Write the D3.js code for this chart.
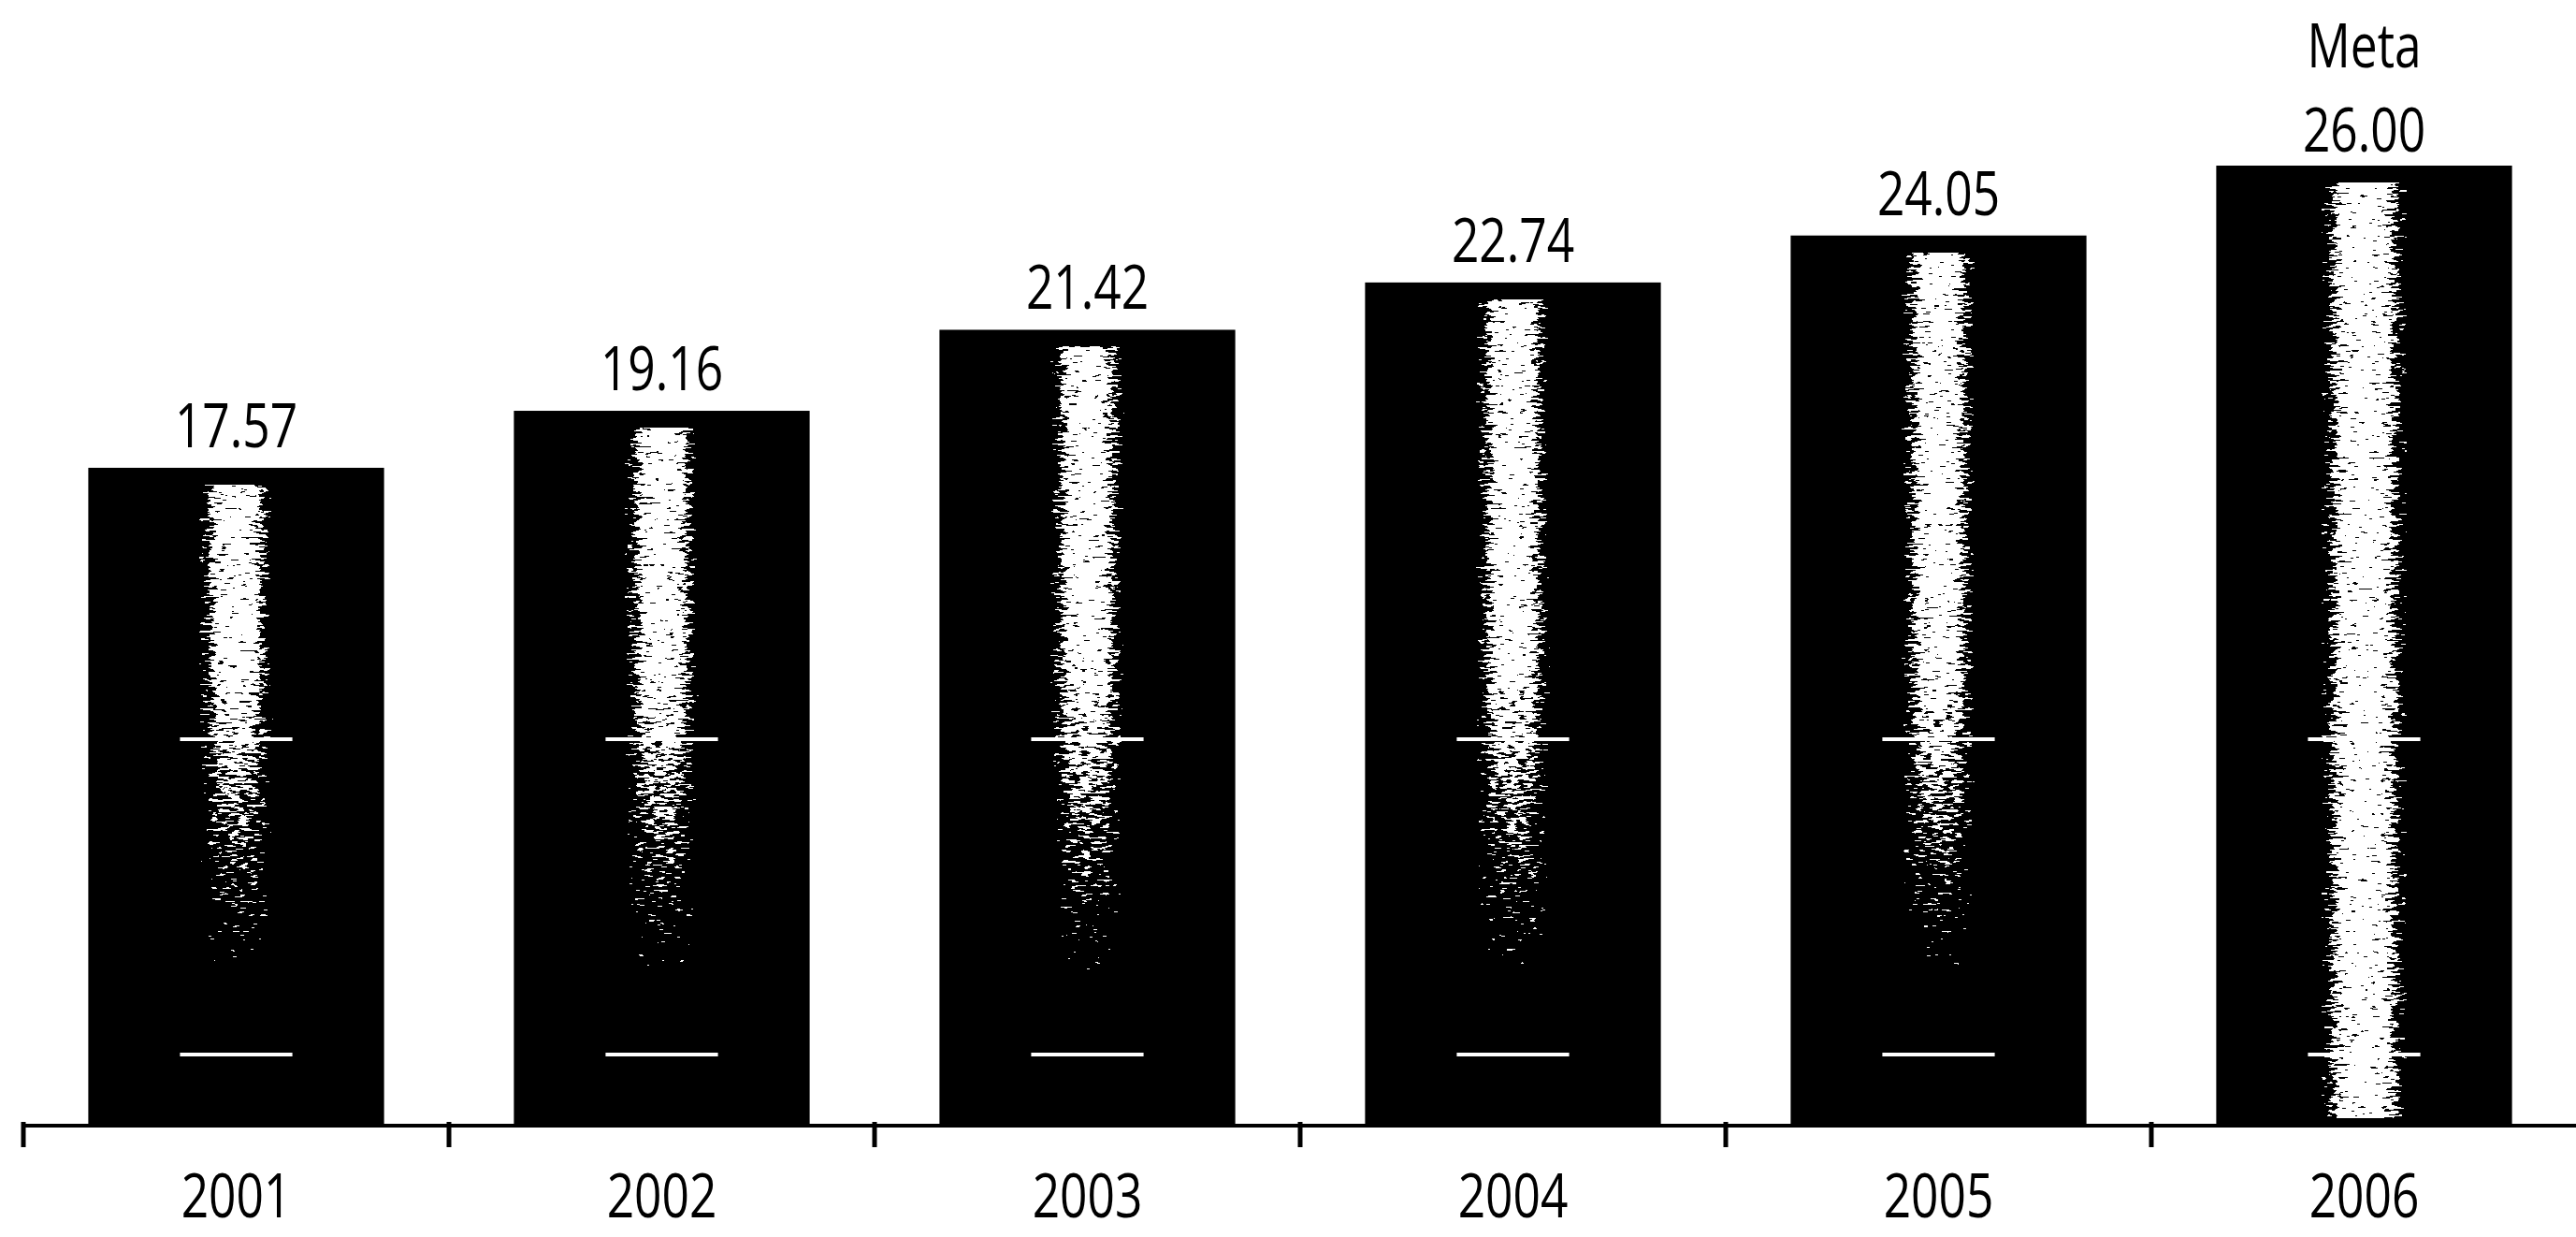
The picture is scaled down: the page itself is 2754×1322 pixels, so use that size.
<!DOCTYPE html>
<html>
<head>
<meta charset="utf-8">
<script src="https://cdn.jsdelivr.net/npm/d3@7"></script>
<style>
  html, body { margin: 0; padding: 0; background: #fff; }
  svg { display: block; }
  text { font-family: "Open Sans", "Noto Sans", sans-serif; fill: #000; }
</style>
</head>
<body>
<svg id="chart"></svg>
<script>
// ---- data ----
const years = ["2001", "2002", "2003", "2004", "2005", "2006"];
const values = [17.57, 19.16, 21.42, 22.74, 24.05, 26.00];
const targetYear = "2006";
const targetNote = "Meta";
const glintLevels = [10, 1.2];   // light streaks crossing the bars

// ---- layout ----
const W = 2754, H = 1322;
const axisY = 1203;
const fontSize = 66;
const squeeze = 0.78;

const svg = d3.select("#chart").attr("width", W).attr("height", H);
const data = years.map((y, i) => ({ year: y, value: values[i] }));

const x = d3.scaleBand().domain(years).range([25, 2755])
  .paddingInner(0.305).paddingOuter(0.1525);
const y = d3.scaleLinear().domain([0, 26]).range([1173, 177]);
const bw = x.bandwidth();

// ---- defs: gradients, masks, grain filter ----
const defs = svg.append("defs");
function hGrad(id, stops) {
  const g = defs.append("linearGradient").attr("id", id)
    .attr("x1", 0).attr("x2", 1).attr("y1", 0).attr("y2", 0);
  stops.forEach(([o, a]) => g.append("stop").attr("offset", o)
    .attr("stop-color", "#fff").attr("stop-opacity", a));
}
hGrad("hGrad", [[0, 0], [0.37, 0], [0.44, 0.85], [0.5, 1], [0.56, 0.85], [0.63, 0], [1, 0]]);
hGrad("hGradWide", [[0, 0], [0.35, 0], [0.43, 0.9], [0.5, 1], [0.57, 0.9], [0.65, 0], [1, 0]]);

const vg = defs.append("linearGradient").attr("id", "vFadeGrad")
  .attr("gradientUnits", "userSpaceOnUse")
  .attr("x1", 0).attr("x2", 0).attr("y1", y(12)).attr("y2", y(3));
vg.append("stop").attr("offset", 0).attr("stop-color", "#fff");
vg.append("stop").attr("offset", 1).attr("stop-color", "#000");
defs.append("mask").attr("id", "vFade")
  .attr("maskUnits", "userSpaceOnUse")
  .attr("x", 0).attr("y", 0).attr("width", W).attr("height", H)
  .append("rect").attr("width", W).attr("height", H).attr("fill", "url(#vFadeGrad)");

const f = defs.append("filter").attr("id", "grain")
  .attr("x", 0).attr("y", 0).attr("width", 1).attr("height", 1)
  .attr("color-interpolation-filters", "sRGB");
f.append("feTurbulence").attr("type", "fractalNoise")
  .attr("baseFrequency", "0.09 0.35").attr("numOctaves", 2).attr("seed", 5)
  .attr("result", "noise");
f.append("feColorMatrix").attr("in", "noise").attr("type", "matrix")
  .attr("values", "0 0 0 0 0  0 0 0 0 0  0 0 0 0 0  1.8 0 0 0 -0.4")
  .attr("result", "na");
f.append("feComposite").attr("in", "SourceGraphic").attr("in2", "na")
  .attr("operator", "arithmetic")
  .attr("k1", 0).attr("k2", 1).attr("k3", -1).attr("k4", 0)
  .attr("result", "diff");
const ct = f.append("feComponentTransfer").attr("in", "diff");
["feFuncR", "feFuncG", "feFuncB"].forEach(n =>
  ct.append(n).attr("type", "linear").attr("slope", 0).attr("intercept", 1));
ct.append("feFuncA").attr("type", "discrete")
  .attr("tableValues", "0 " + d3.range(15).map(() => "1").join(" "));

// ---- bars ----
const bars = svg.append("g").selectAll("g.bar").data(data).join("g").attr("class", "bar");

bars.append("rect")
  .attr("x", d => x(d.year))
  .attr("y", d => y(d.value))
  .attr("width", bw)
  .attr("height", d => axisY - y(d.value))
  .attr("fill", "#000");

bars.append("g").attr("filter", "url(#grain)")
  .append("rect")
  .attr("x", d => x(d.year))
  .attr("y", d => y(d.value) + 18)
  .attr("width", bw)
  .attr("height", d => axisY - 8 - (y(d.value) + 18))
  .attr("fill", d => d.year === targetYear ? "url(#hGradWide)" : "url(#hGrad)")
  .attr("mask", d => d.year === targetYear ? null : "url(#vFade)");

bars.each(function(d) {
  const g = d3.select(this);
  const cx = x(d.year) + bw / 2;
  glintLevels.forEach(l => {
    g.append("line")
      .attr("x1", cx - bw * 0.19).attr("x2", cx + bw * 0.19)
      .attr("y1", y(l)).attr("y2", y(l))
      .attr("stroke", "#fff").attr("stroke-width", 4);
  });
});

// ---- value labels ----
const fmt = d3.format(".2f");
const labelGap = d => d.year === targetYear ? 15 : 22;
svg.append("g").selectAll("text.lab").data(data).join("text")
  .attr("class", "lab")
  .attr("text-anchor", "middle")
  .attr("font-size", fontSize)
  .attr("transform", d => `translate(${x(d.year) + bw / 2},${y(d.value) - labelGap(d)}) scale(${squeeze},1)`)
  .text(d => fmt(d.value));
svg.append("g").selectAll("text.note").data(data.filter(d => d.year === targetYear)).join("text")
  .attr("class", "note")
  .attr("text-anchor", "middle")
  .attr("font-size", fontSize)
  .attr("transform", d => `translate(${x(d.year) + bw / 2},${y(d.value) - labelGap(d) - 90}) scale(${squeeze},1)`)
  .text(targetNote);

// ---- x axis ----
const axisG = svg.append("g").attr("transform", `translate(0,${axisY})`);
axisG.call(d3.axisBottom(x).tickSize(0))
  .call(g => g.select(".domain").remove());
axisG.selectAll(".tick text")
  .attr("font-size", fontSize)
  .attr("font-family", "'Open Sans', 'Noto Sans', sans-serif")
  .attr("fill", "#000")
  .attr("y", 98).attr("dy", 0)
  .attr("transform", `scale(${squeeze},1)`);

axisG.append("line")
  .attr("x1", x.range()[0]).attr("x2", W)
  .attr("y1", 0).attr("y2", 0)
  .attr("stroke", "#000").attr("stroke-width", 4);

const gap = x.step() - bw;
axisG.selectAll("line.sep").data(years).join("line").attr("class", "sep")
  .attr("x1", d => x(d) - gap / 2).attr("x2", d => x(d) - gap / 2)
  .attr("y1", -4).attr("y2", 23)
  .attr("stroke", "#000").attr("stroke-width", 5);
</script>
</body>
</html>
